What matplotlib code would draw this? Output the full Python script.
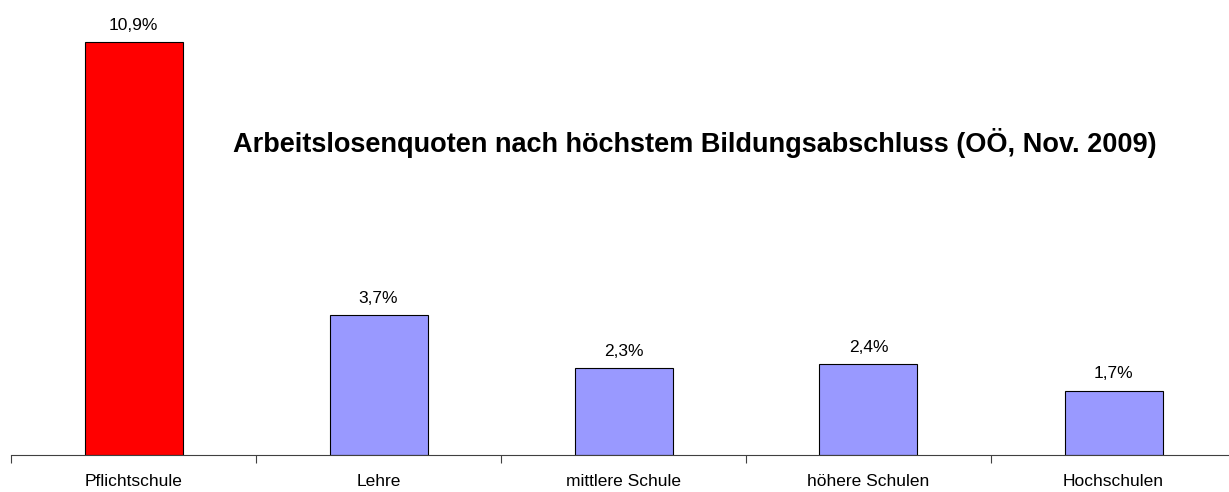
import matplotlib
matplotlib.use("Agg")
import matplotlib.pyplot as plt

plt.rcParams['font.family'] = ['Liberation Sans', 'DejaVu Sans']

categories = ["Pflichtschule", "Lehre", "mittlere Schule", "höhere Schulen", "Hochschulen"]
values = [10.9, 3.7, 2.3, 2.4, 1.7]
labels = ["10,9%", "3,7%", "2,3%", "2,4%", "1,7%"]
colors = ["#FF0000", "#9999FF", "#9999FF", "#9999FF", "#9999FF"]
title = "Arbeitslosenquoten nach höchstem Bildungsabschluss (OÖ, Nov. 2009)"

fig = plt.figure(figsize=(12.29, 4.92), dpi=100)
ax = fig.add_axes([11/1229, 37/492, 1225/1229, 455/492])
x = list(range(len(categories)))
ax.bar(x, values, width=0.4, color=colors, edgecolor="black", linewidth=0.8)
for xi, v, lab in zip(x, values, labels):
    ax.text(xi, v + 0.24, lab, ha="center", va="bottom", fontsize=12.5)
ax.set_xlim(-0.5, 4.5)
ax.set_ylim(0, 12)
ax.set_xticks([i - 0.5 for i in range(6)])
ax.set_xticklabels([])
ax.set_xticks(x, minor=True)
ax.set_xticklabels(categories, minor=True, fontsize=12.5)
ax.tick_params(axis="x", which="major", length=6, width=0.8, color="#404040")
ax.tick_params(axis="x", which="minor", length=0, pad=14)
ax.set_yticks([])
for s in ["top", "right", "left"]:
    ax.spines[s].set_visible(False)
ax.spines["bottom"].set_color("#404040")
ax.spines["bottom"].set_linewidth(0.8)
ax.text(2.29, 8.23, title, ha="center", va="center", fontsize=19.5, fontweight="bold")
fig.savefig("out.png", dpi=100)
